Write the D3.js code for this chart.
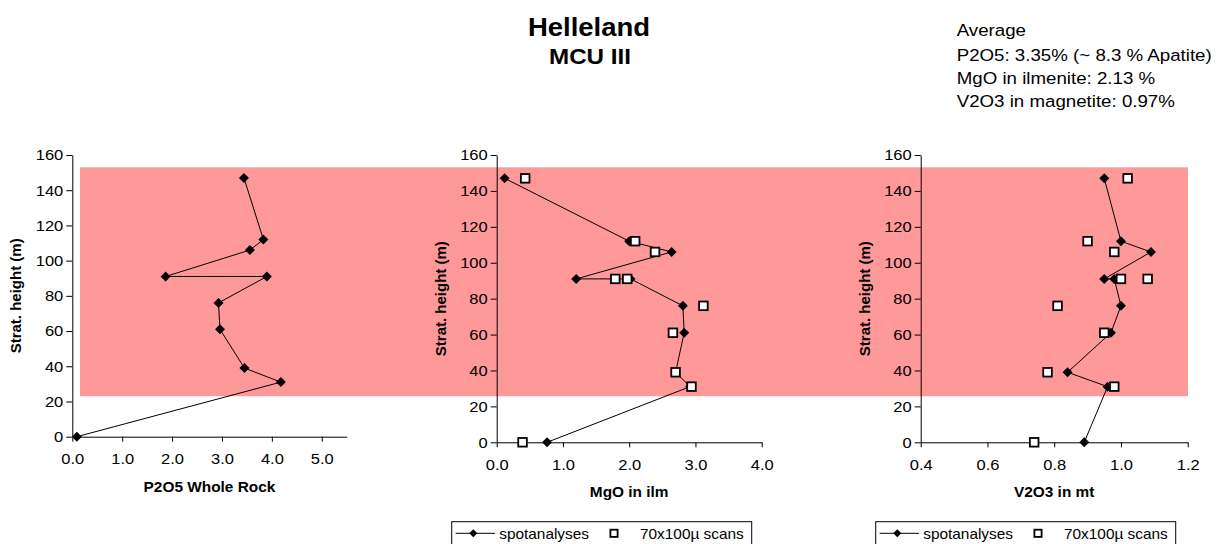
<!DOCTYPE html>
<html>
<head>
<meta charset="utf-8">
<script src="https://cdn.jsdelivr.net/npm/d3@7"></script>
<style>
  html, body { margin: 0; padding: 0; background: #fff; }
  svg { display: block; font-family: "Liberation Sans", Arial, sans-serif; }
  .sx { transform: scaleX(1.1); transform-box: fill-box; }
  .sx-m { transform-origin: center; }
  .sx-e { transform-origin: right center; }
  .sx-s { transform-origin: left center; }
  .axis path, .axis line { stroke: #000; stroke-width: 1; }
  .axis text { fill: #000; font-size: 15px; font-family: "Liberation Sans", Arial, sans-serif; }
</style>
</head>
<body>
<svg id="chart" width="1218" height="544"></svg>
<script>
// ---------- data ----------
const heights = [147, 112, 106, 91, 91, 76, 61, 39, 31, 0];
const p2o5WholeRock = [3.44, 3.83, 3.56, 1.87, 3.90, 2.93, 2.96, 3.45, 4.18, 0.09];
const mgoSpot = [0.12, 2.00, 2.64, 1.20, 2.02, 2.81, 2.83, 2.70, 2.92, 0.76];
const mgoScan = [0.43, 2.09, 2.39, 1.79, 1.97, 3.12, 2.66, 2.70, 2.94, 0.39];
const v2o3Spot = [0.95, 1.00, 1.09, 0.95, 0.98, 1.00, 0.97, 0.84, 0.96, 0.89];
const v2o3Scan = [1.02, 0.90, 0.98, 1.00, 1.08, 0.81, 0.95, 0.78, 0.98, 0.74];

const yTicks = [0, 20, 40, 60, 80, 100, 120, 140, 160];
const p2o5Ticks = [0, 1, 2, 3, 4, 5];
const mgoTicks = [0, 1, 2, 3, 4];
const v2o3Ticks = [0.4, 0.6, 0.8, 1.0, 1.2];

const titleText = "Helleland";
const subtitleText = "MCU III";
const averageLines = ["Average", "P2O5: 3.35% (~ 8.3 % Apatite)", "MgO in ilmenite: 2.13 %", "V2O3 in magnetite: 0.97%"];
const yLabel = "Strat. height (m)";
const legendLabels = ["spotanalyses", "70x100µ scans"];
const bandRange = [23, 153]; // highlighted stratigraphic interval (m), in panel-1 units

// ---------- layout ----------
const svg = d3.select("#chart");
const panels = [
  { xDomain: [0, 5.5], xr: [72.3, 346.7], yr: [436.7, 155], ticks: p2o5Ticks, title: "P2O5 Whole Rock", spot: p2o5WholeRock, scan: null },
  { xDomain: [0, 4], xr: [496.7, 761.7], yr: [442.3, 155], ticks: mgoTicks, title: "MgO in ilm", spot: mgoSpot, scan: mgoScan },
  { xDomain: [0.4, 1.2], xr: [920.7, 1187.7], yr: [442.3, 155], ticks: v2o3Ticks, title: "V2O3 in mt", spot: v2o3Spot, scan: v2o3Scan }
];
panels.forEach(p => {
  p.x = d3.scaleLinear().domain(p.xDomain).range(p.xr);
  p.y = d3.scaleLinear().domain([0, 160]).range(p.yr);
});

// pink band spanning all panels
const yb = panels[0].y;
svg.append("rect")
  .attr("x", 80).attr("width", 1188 - 80)
  .attr("y", yb(bandRange[1])).attr("height", yb(bandRange[0]) - yb(bandRange[1]))
  .attr("fill", "#FF9999");

const diamond = r => `M0,${-r}L${r},0L0,${r}L${-r},0Z`;

panels.forEach(p => {
  const g = svg.append("g");
  // axes
  const xAxis = g.append("g").attr("class", "axis")
    .attr("transform", `translate(0,${p.yr[0]})`)
    .call(d3.axisBottom(p.x).tickValues(p.ticks).tickFormat(d3.format(".1f")).tickSize(5).tickSizeOuter(0).tickPadding(12));
  xAxis.selectAll("text").attr("class", "sx sx-m");
  const yAxis = g.append("g").attr("class", "axis")
    .attr("transform", `translate(${p.xr[0]},0)`)
    .call(d3.axisLeft(p.y).tickValues(yTicks).tickSize(6).tickSizeOuter(0).tickPadding(3));
  yAxis.selectAll("text").attr("class", "sx sx-e");

  // axis titles
  g.append("text")
    .attr("class", "sx sx-m")
    .attr("x", (p.xr[0] + p.xr[1]) / 2).attr("y", p.yr[0] + 55)
    .attr("text-anchor", "middle").attr("font-size", 14).attr("font-weight", "bold")
    .text(p.title);
  g.append("text")
    .attr("transform", `translate(${p.xr[0] - 51},${(p.yr[0] + p.yr[1]) / 2}) rotate(-90)`)
    .attr("text-anchor", "middle").attr("font-size", 15).attr("font-weight", "bold")
    .text(yLabel);

  // spot line + diamonds
  const pts = p.spot.map((v, i) => [v, heights[i]]);
  g.append("path")
    .attr("d", d3.line().x(d => p.x(d[0])).y(d => p.y(d[1]))(pts))
    .attr("fill", "none").attr("stroke", "#000").attr("stroke-width", 1);
  g.selectAll(".dia").data(pts).join("path")
    .attr("d", diamond(5))
    .attr("transform", d => `translate(${p.x(d[0])},${p.y(d[1])})`)
    .attr("fill", "#000");

  // scan squares
  if (p.scan) {
    const sq = p.scan.map((v, i) => [v, heights[i]]);
    g.selectAll(".sq").data(sq).join("rect")
      .attr("x", d => p.x(d[0]) - 4.3).attr("y", d => p.y(d[1]) - 4.3)
      .attr("width", 8.6).attr("height", 8.6)
      .attr("fill", "#fff").attr("stroke", "#000").attr("stroke-width", 1.8);

    // legend
    const lx = p.xr[0] - 45, ly = 521.7, my = 533.3;
    const lg = svg.append("g");
    lg.append("rect").attr("x", lx).attr("y", ly).attr("width", 300).attr("height", 30)
      .attr("fill", "#fff").attr("stroke", "#000").attr("stroke-width", 1);
    lg.append("line").attr("x1", lx + 4).attr("x2", lx + 43.3).attr("y1", my).attr("y2", my)
      .attr("stroke", "#000").attr("stroke-width", 1);
    lg.append("path").attr("d", diamond(4)).attr("transform", `translate(${lx + 21.6},${my})`).attr("fill", "#000");
    lg.append("text").attr("class", "sx sx-s").attr("x", lx + 47.5).attr("y", 539.5)
      .attr("font-size", 14).text(legendLabels[0]);
    lg.append("rect").attr("x", lx + 162.3 - 3.6).attr("y", my - 3.6).attr("width", 7.2).attr("height", 7.2)
      .attr("fill", "#fff").attr("stroke", "#000").attr("stroke-width", 1.8);
    lg.append("text").attr("class", "sx sx-s").attr("x", lx + 188.3).attr("y", 539.5)
      .attr("font-size", 14).text(legendLabels[1]);
  }
});

// titles
svg.append("text").attr("class", "sx sx-m").attr("x", 589).attr("y", 35.7)
  .attr("text-anchor", "middle").attr("font-size", 25).attr("font-weight", "bold").text(titleText);
svg.append("text").attr("class", "sx sx-m").attr("x", 590).attr("y", 64.3)
  .attr("text-anchor", "middle").attr("font-size", 22).attr("font-weight", "bold").text(subtitleText);

const avgY = [36.5, 61, 84, 107];
averageLines.forEach((t, i) => {
  svg.append("text").attr("class", "sx sx-s").attr("x", 956.7).attr("y", avgY[i])
    .attr("font-size", 17).text(t);
});
</script>
</body>
</html>
